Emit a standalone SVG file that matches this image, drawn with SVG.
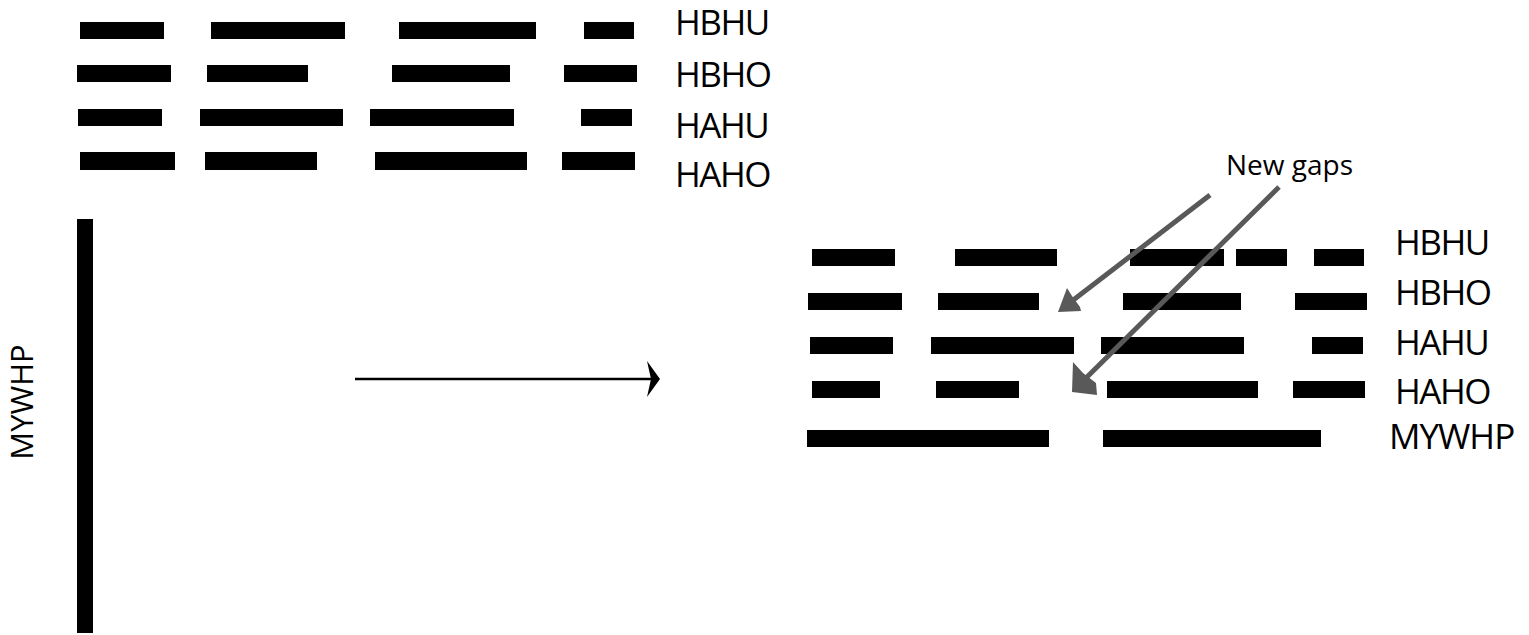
<svg xmlns="http://www.w3.org/2000/svg" width="1529" height="635" viewBox="0 0 1529 635">
  <style>
    .bar { fill: #000; }
    .lbl { font-family: "Open Sans", "Liberation Sans", sans-serif; font-size: 35px; fill: #000; letter-spacing: -1.5px; }
    .note { font-family: "Open Sans", "Liberation Sans", sans-serif; font-size: 28px; fill: #000; }
    .gray { stroke: #595959; stroke-width: 5; fill: none; }
  </style>

  <g id="before-HBHU">
    <rect class="bar" x="80" y="22" width="84" height="17"/>
    <rect class="bar" x="211" y="22" width="134" height="17"/>
    <rect class="bar" x="399" y="22" width="137" height="17"/>
    <rect class="bar" x="584" y="22" width="50" height="17"/>
    <text class="lbl" x="675" y="35">HBHU</text>
  </g>
  <g id="before-HBHO">
    <rect class="bar" x="77" y="65" width="94" height="17"/>
    <rect class="bar" x="207" y="65" width="101" height="17"/>
    <rect class="bar" x="392" y="65" width="118" height="17"/>
    <rect class="bar" x="564" y="65" width="73" height="17"/>
    <text class="lbl" x="675" y="87">HBHO</text>
  </g>
  <g id="before-HAHU">
    <rect class="bar" x="78" y="109" width="84" height="17"/>
    <rect class="bar" x="200" y="109" width="143" height="17"/>
    <rect class="bar" x="370" y="109" width="144" height="17"/>
    <rect class="bar" x="581" y="109" width="51" height="17"/>
    <text class="lbl" x="675" y="138">HAHU</text>
  </g>
  <g id="before-HAHO">
    <rect class="bar" x="80" y="152" width="95" height="18"/>
    <rect class="bar" x="205" y="152" width="112" height="18"/>
    <rect class="bar" x="375" y="152" width="152" height="18"/>
    <rect class="bar" x="562" y="152" width="73" height="18"/>
    <text class="lbl" x="675" y="187">HAHO</text>
  </g>
  <g id="before-MYWHP">
    <rect class="bar" x="77" y="219" width="16" height="414"/>
    <text class="lbl" style="font-size:31px;letter-spacing:0" transform="translate(33,402) rotate(-90)" text-anchor="middle">MYWHP</text>
  </g>

  <g id="after-HBHU">
    <rect class="bar" x="812" y="249" width="83" height="17"/>
    <rect class="bar" x="955" y="249" width="102" height="17"/>
    <rect class="bar" x="1130" y="249" width="94" height="17"/>
    <rect class="bar" x="1236" y="249" width="51" height="17"/>
    <rect class="bar" x="1314" y="249" width="50" height="17"/>
    <text class="lbl" x="1395" y="255">HBHU</text>
  </g>
  <g id="after-HBHO">
    <rect class="bar" x="808" y="293" width="94" height="17"/>
    <rect class="bar" x="938" y="293" width="101" height="17"/>
    <rect class="bar" x="1123" y="293" width="118" height="17"/>
    <rect class="bar" x="1295" y="293" width="72" height="17"/>
    <text class="lbl" x="1395" y="305">HBHO</text>
  </g>
  <g id="after-HAHU">
    <rect class="bar" x="810" y="337" width="83" height="17"/>
    <rect class="bar" x="931" y="337" width="143" height="17"/>
    <rect class="bar" x="1101" y="337" width="143" height="17"/>
    <rect class="bar" x="1312" y="337" width="51" height="17"/>
    <text class="lbl" x="1395" y="355">HAHU</text>
  </g>
  <g id="after-HAHO">
    <rect class="bar" x="812" y="381" width="68" height="17"/>
    <rect class="bar" x="936" y="381" width="83" height="17"/>
    <rect class="bar" x="1107" y="381" width="151" height="17"/>
    <rect class="bar" x="1293" y="381" width="72" height="17"/>
    <text class="lbl" x="1395" y="404">HAHO</text>
  </g>
  <g id="after-MYWHP">
    <rect class="bar" x="807" y="430" width="242" height="17"/>
    <rect class="bar" x="1103" y="430" width="218" height="17"/>
    <text class="lbl" style="letter-spacing:-1px" x="1389" y="449">MYWHP</text>
  </g>

  <g id="note">
    <text class="note" x="1226" y="175">New gaps</text>
  </g>

  <g id="connectors">
    <line x1="355" y1="379" x2="651" y2="379" stroke="#000" stroke-width="2.5"/>
    <path d="M647,361 L660,379 L647,397 L651,379 Z" fill="#000"/>
    <line class="gray" x1="1210" y1="195" x2="1072" y2="301"/>
    <path d="M1058,312 L1067,288 L1072,296 L1080,307 L1081,311 Z" fill="#595959"/>
    <line class="gray" x1="1279" y1="187" x2="1085" y2="379"/>
    <path d="M1072,392 L1073,362 L1083,373 L1096,383 L1097,395 Z" fill="#595959"/>
  </g>
</svg>
